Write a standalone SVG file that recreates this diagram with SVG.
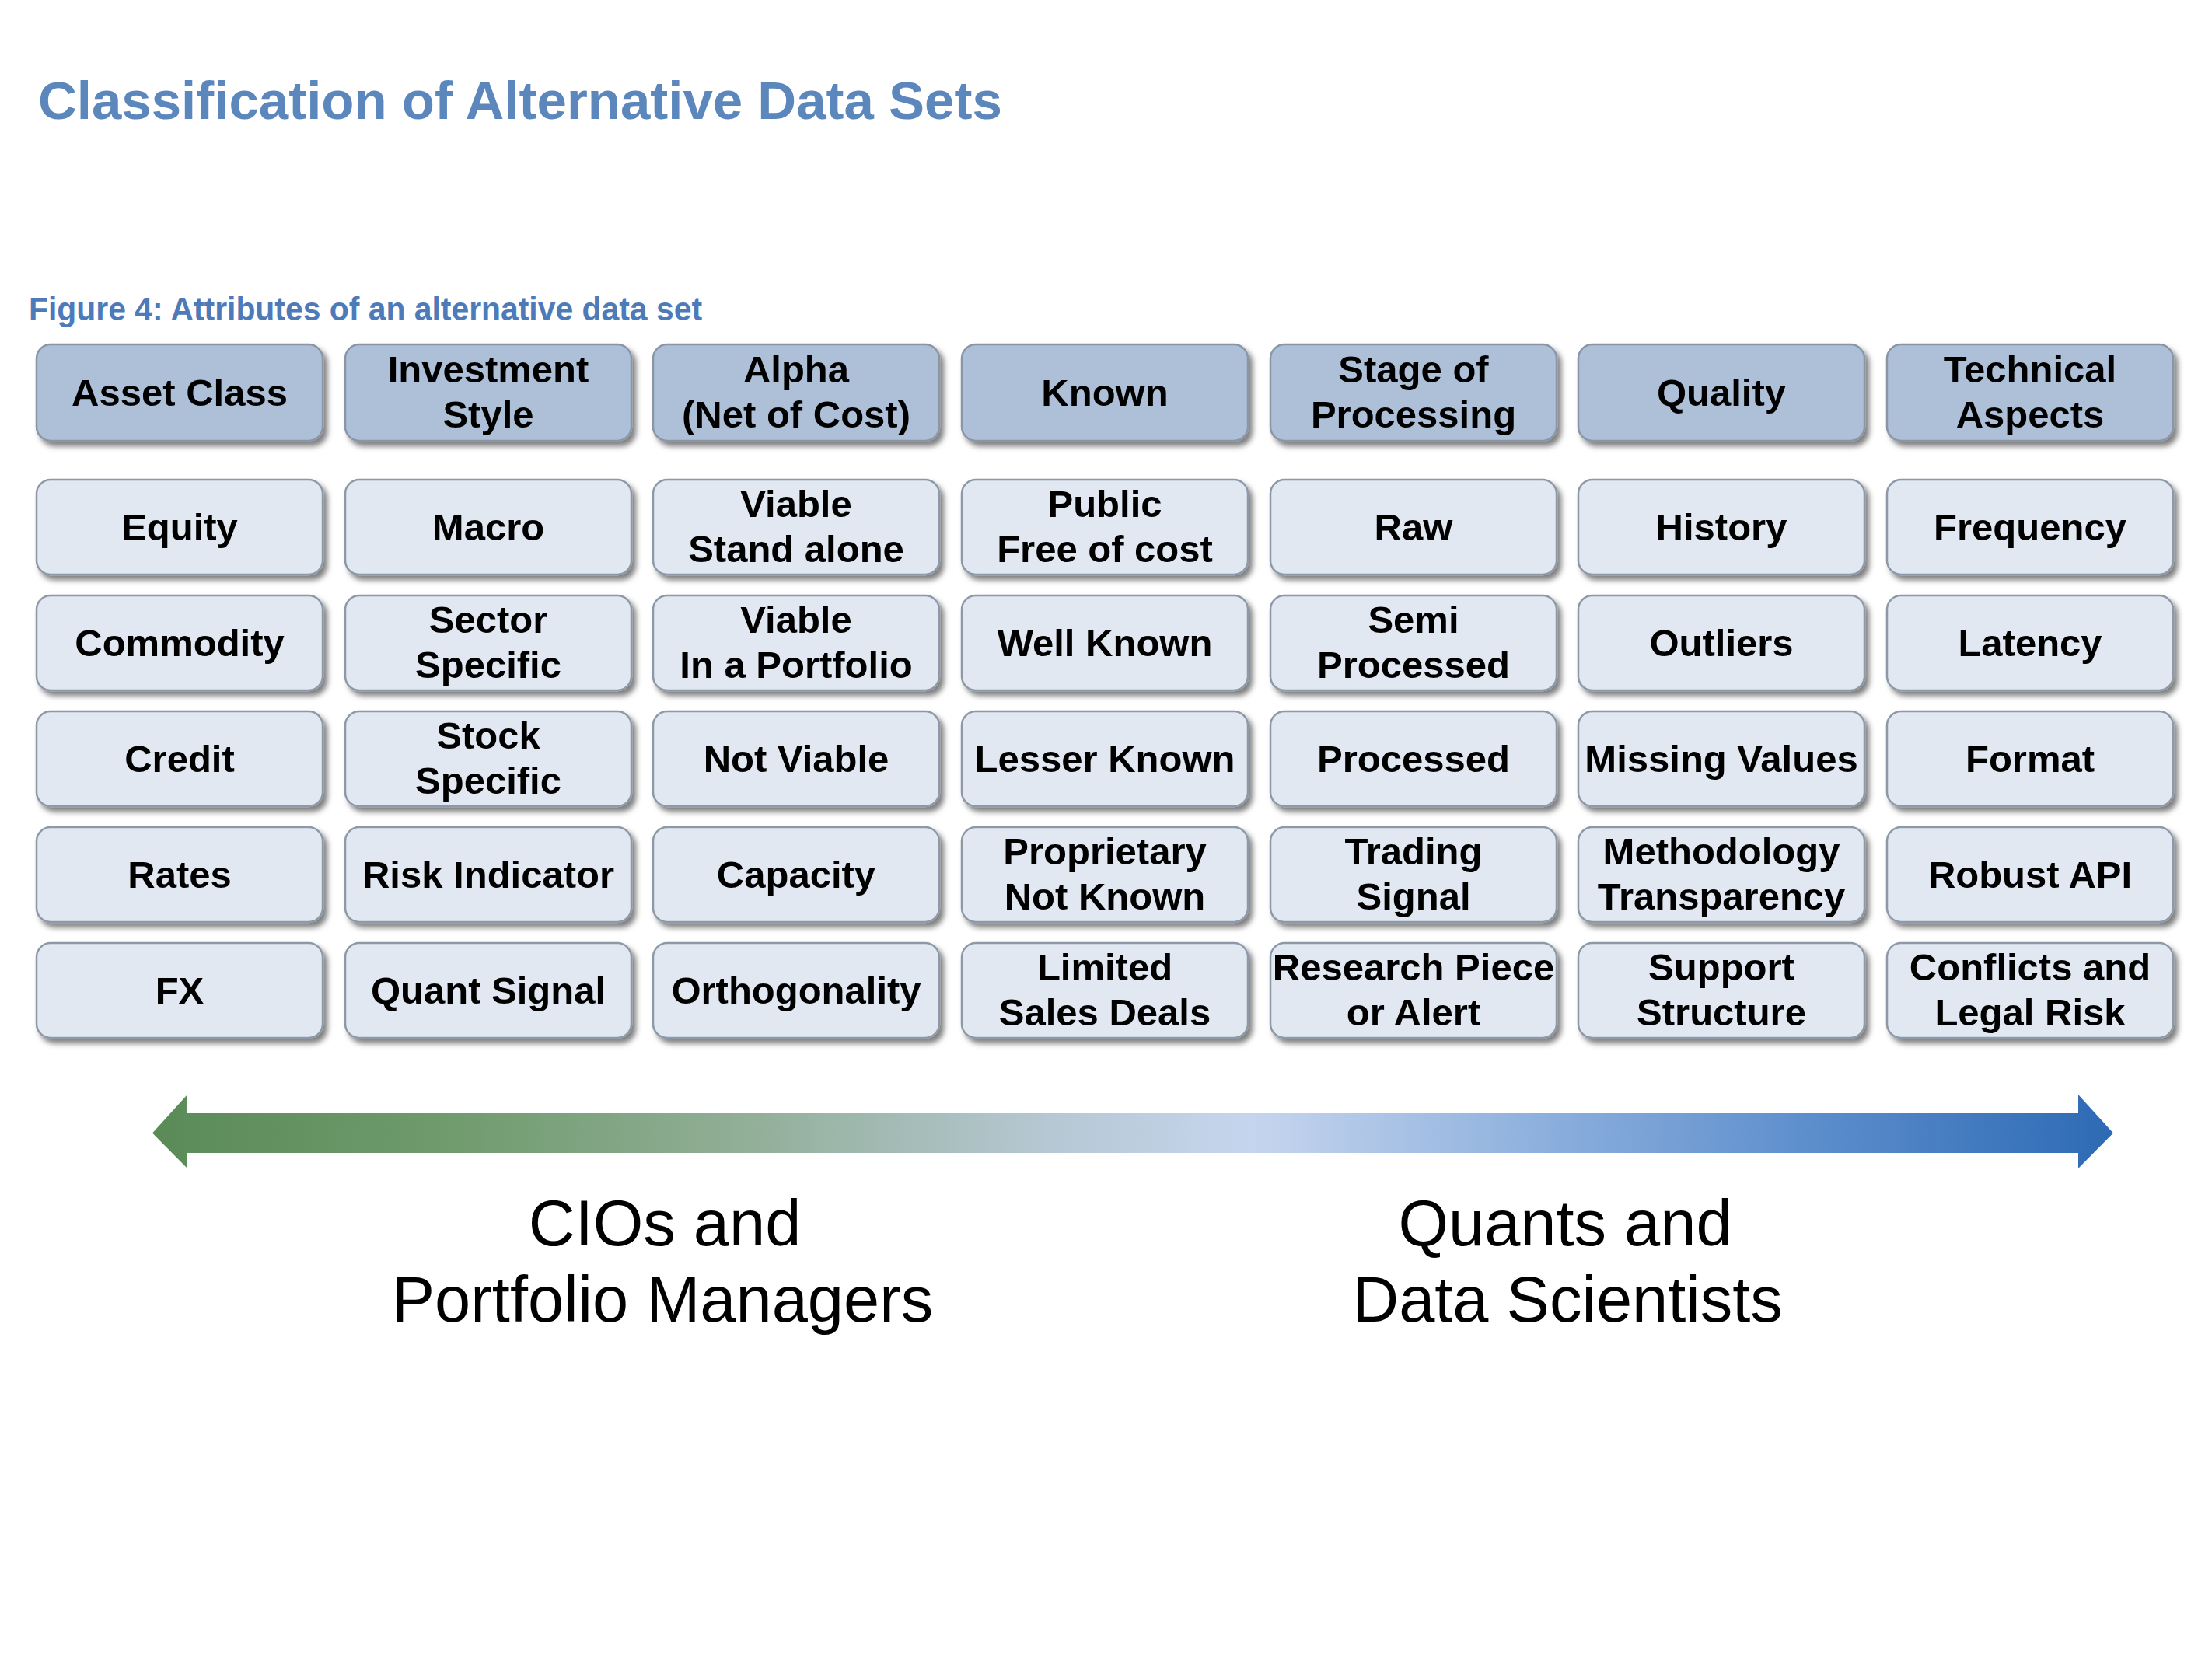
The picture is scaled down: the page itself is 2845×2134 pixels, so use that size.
<svg xmlns="http://www.w3.org/2000/svg" width="2845" height="2134" viewBox="0 0 2845 2134">
<defs>
<style>
.hd{fill:#adc0d8;stroke:#8a96a6;stroke-width:2.5}
.cl{fill:#e1e8f2;stroke:#8e99a8;stroke-width:2.5}
.t{font-family:"Liberation Sans",Arial,sans-serif;font-weight:bold;font-size:49px;fill:#000;text-anchor:middle}
.big{font-family:"Liberation Sans",Arial,sans-serif;font-size:83px;fill:#000;text-anchor:middle}
</style>
<filter id="sh" x="-10%" y="-20%" width="125%" height="150%">
<feDropShadow dx="5" dy="6" stdDeviation="3.5" flood-color="#000" flood-opacity="0.5"/>
</filter>
<linearGradient id="ag" gradientUnits="userSpaceOnUse" x1="196" y1="0" x2="2718" y2="0">
<stop offset="0" stop-color="#5a8b57"/>
<stop offset="0.15" stop-color="#6f9b6d"/>
<stop offset="0.3" stop-color="#91ae96"/>
<stop offset="0.45" stop-color="#b4c7d1"/>
<stop offset="0.56" stop-color="#c6d5ee"/>
<stop offset="0.7" stop-color="#90b2de"/>
<stop offset="0.85" stop-color="#5b8dcc"/>
<stop offset="1" stop-color="#2d6ab4"/>
</linearGradient>
</defs>
<rect width="2845" height="2134" fill="#fff"/>
<text x="49" y="153" font-family="'Liberation Sans',Arial,sans-serif" font-weight="bold" font-size="69" fill="#5b87bd">Classification of Alternative Data Sets</text>
<text x="37" y="412" font-family="'Liberation Sans',Arial,sans-serif" font-weight="bold" font-size="42" fill="#4d7bb9" textLength="866" lengthAdjust="spacingAndGlyphs">Figure 4: Attributes of an alternative data set</text>

<g id="col1">
<g id="n-asset-class"><rect class="hd" x="47" y="443" width="368" height="124" rx="18" filter="url(#sh)"/><text class="t" x="231" y="522">Asset Class</text></g>
<g id="n-equity"><rect class="cl" x="47" y="617" width="368" height="122" rx="18" filter="url(#sh)"/><text class="t" x="231" y="695">Equity</text></g>
<g id="n-commodity"><rect class="cl" x="47" y="766" width="368" height="122" rx="18" filter="url(#sh)"/><text class="t" x="231" y="844">Commodity</text></g>
<g id="n-credit"><rect class="cl" x="47" y="915" width="368" height="122" rx="18" filter="url(#sh)"/><text class="t" x="231" y="993">Credit</text></g>
<g id="n-rates"><rect class="cl" x="47" y="1064" width="368" height="122" rx="18" filter="url(#sh)"/><text class="t" x="231" y="1142">Rates</text></g>
<g id="n-fx"><rect class="cl" x="47" y="1213" width="368" height="122" rx="18" filter="url(#sh)"/><text class="t" x="231" y="1291">FX</text></g>
</g>

<g id="col2">
<g id="n-investment-style"><rect class="hd" x="444" y="443" width="368" height="124" rx="18" filter="url(#sh)"/><text class="t" x="628" y="492">Investment</text><text class="t" x="628" y="550">Style</text></g>
<g id="n-macro"><rect class="cl" x="444" y="617" width="368" height="122" rx="18" filter="url(#sh)"/><text class="t" x="628" y="695">Macro</text></g>
<g id="n-sector-specific"><rect class="cl" x="444" y="766" width="368" height="122" rx="18" filter="url(#sh)"/><text class="t" x="628" y="814">Sector</text><text class="t" x="628" y="872">Specific</text></g>
<g id="n-stock-specific"><rect class="cl" x="444" y="915" width="368" height="122" rx="18" filter="url(#sh)"/><text class="t" x="628" y="963">Stock</text><text class="t" x="628" y="1021">Specific</text></g>
<g id="n-risk-indicator"><rect class="cl" x="444" y="1064" width="368" height="122" rx="18" filter="url(#sh)"/><text class="t" x="628" y="1142">Risk Indicator</text></g>
<g id="n-quant-signal"><rect class="cl" x="444" y="1213" width="368" height="122" rx="18" filter="url(#sh)"/><text class="t" x="628" y="1291">Quant Signal</text></g>
</g>

<g id="col3">
<g id="n-alpha"><rect class="hd" x="840" y="443" width="368" height="124" rx="18" filter="url(#sh)"/><text class="t" x="1024" y="492">Alpha</text><text class="t" x="1024" y="550">(Net of Cost)</text></g>
<g id="n-viable-stand-alone"><rect class="cl" x="840" y="617" width="368" height="122" rx="18" filter="url(#sh)"/><text class="t" x="1024" y="665">Viable</text><text class="t" x="1024" y="723">Stand alone</text></g>
<g id="n-viable-portfolio"><rect class="cl" x="840" y="766" width="368" height="122" rx="18" filter="url(#sh)"/><text class="t" x="1024" y="814">Viable</text><text class="t" x="1024" y="872">In a Portfolio</text></g>
<g id="n-not-viable"><rect class="cl" x="840" y="915" width="368" height="122" rx="18" filter="url(#sh)"/><text class="t" x="1024" y="993">Not Viable</text></g>
<g id="n-capacity"><rect class="cl" x="840" y="1064" width="368" height="122" rx="18" filter="url(#sh)"/><text class="t" x="1024" y="1142">Capacity</text></g>
<g id="n-orthogonality"><rect class="cl" x="840" y="1213" width="368" height="122" rx="18" filter="url(#sh)"/><text class="t" x="1024" y="1291">Orthogonality</text></g>
</g>

<g id="col4">
<g id="n-known"><rect class="hd" x="1237" y="443" width="368" height="124" rx="18" filter="url(#sh)"/><text class="t" x="1421" y="522">Known</text></g>
<g id="n-public"><rect class="cl" x="1237" y="617" width="368" height="122" rx="18" filter="url(#sh)"/><text class="t" x="1421" y="665">Public</text><text class="t" x="1421" y="723">Free of cost</text></g>
<g id="n-well-known"><rect class="cl" x="1237" y="766" width="368" height="122" rx="18" filter="url(#sh)"/><text class="t" x="1421" y="844">Well Known</text></g>
<g id="n-lesser-known"><rect class="cl" x="1237" y="915" width="368" height="122" rx="18" filter="url(#sh)"/><text class="t" x="1421" y="993">Lesser Known</text></g>
<g id="n-proprietary"><rect class="cl" x="1237" y="1064" width="368" height="122" rx="18" filter="url(#sh)"/><text class="t" x="1421" y="1112">Proprietary</text><text class="t" x="1421" y="1170">Not Known</text></g>
<g id="n-limited"><rect class="cl" x="1237" y="1213" width="368" height="122" rx="18" filter="url(#sh)"/><text class="t" x="1421" y="1261">Limited</text><text class="t" x="1421" y="1319">Sales Deals</text></g>
</g>

<g id="col5">
<g id="n-stage"><rect class="hd" x="1634" y="443" width="368" height="124" rx="18" filter="url(#sh)"/><text class="t" x="1818" y="492">Stage of</text><text class="t" x="1818" y="550">Processing</text></g>
<g id="n-raw"><rect class="cl" x="1634" y="617" width="368" height="122" rx="18" filter="url(#sh)"/><text class="t" x="1818" y="695">Raw</text></g>
<g id="n-semi"><rect class="cl" x="1634" y="766" width="368" height="122" rx="18" filter="url(#sh)"/><text class="t" x="1818" y="814">Semi</text><text class="t" x="1818" y="872">Processed</text></g>
<g id="n-processed"><rect class="cl" x="1634" y="915" width="368" height="122" rx="18" filter="url(#sh)"/><text class="t" x="1818" y="993">Processed</text></g>
<g id="n-trading-signal"><rect class="cl" x="1634" y="1064" width="368" height="122" rx="18" filter="url(#sh)"/><text class="t" x="1818" y="1112">Trading</text><text class="t" x="1818" y="1170">Signal</text></g>
<g id="n-research"><rect class="cl" x="1634" y="1213" width="368" height="122" rx="18" filter="url(#sh)"/><text class="t" x="1818" y="1261">Research Piece</text><text class="t" x="1818" y="1319">or Alert</text></g>
</g>

<g id="col6">
<g id="n-quality"><rect class="hd" x="2030" y="443" width="368" height="124" rx="18" filter="url(#sh)"/><text class="t" x="2214" y="522">Quality</text></g>
<g id="n-history"><rect class="cl" x="2030" y="617" width="368" height="122" rx="18" filter="url(#sh)"/><text class="t" x="2214" y="695">History</text></g>
<g id="n-outliers"><rect class="cl" x="2030" y="766" width="368" height="122" rx="18" filter="url(#sh)"/><text class="t" x="2214" y="844">Outliers</text></g>
<g id="n-missing"><rect class="cl" x="2030" y="915" width="368" height="122" rx="18" filter="url(#sh)"/><text class="t" x="2214" y="993">Missing Values</text></g>
<g id="n-methodology"><rect class="cl" x="2030" y="1064" width="368" height="122" rx="18" filter="url(#sh)"/><text class="t" x="2214" y="1112">Methodology</text><text class="t" x="2214" y="1170">Transparency</text></g>
<g id="n-support"><rect class="cl" x="2030" y="1213" width="368" height="122" rx="18" filter="url(#sh)"/><text class="t" x="2214" y="1261">Support</text><text class="t" x="2214" y="1319">Structure</text></g>
</g>

<g id="col7">
<g id="n-technical"><rect class="hd" x="2427" y="443" width="368" height="124" rx="18" filter="url(#sh)"/><text class="t" x="2611" y="492">Technical</text><text class="t" x="2611" y="550">Aspects</text></g>
<g id="n-frequency"><rect class="cl" x="2427" y="617" width="368" height="122" rx="18" filter="url(#sh)"/><text class="t" x="2611" y="695">Frequency</text></g>
<g id="n-latency"><rect class="cl" x="2427" y="766" width="368" height="122" rx="18" filter="url(#sh)"/><text class="t" x="2611" y="844">Latency</text></g>
<g id="n-format"><rect class="cl" x="2427" y="915" width="368" height="122" rx="18" filter="url(#sh)"/><text class="t" x="2611" y="993">Format</text></g>
<g id="n-robust-api"><rect class="cl" x="2427" y="1064" width="368" height="122" rx="18" filter="url(#sh)"/><text class="t" x="2611" y="1142">Robust API</text></g>
<g id="n-conflicts"><rect class="cl" x="2427" y="1213" width="368" height="122" rx="18" filter="url(#sh)"/><text class="t" x="2611" y="1261">Conflicts and</text><text class="t" x="2611" y="1319">Legal Risk</text></g>
</g>

<g id="connectors">
<path d="M196,1457.5 L241,1408 L241,1432 L2673,1432 L2673,1408 L2718,1457.5 L2673,1503 L2673,1483 L241,1483 L241,1503 Z" fill="url(#ag)"/>
</g>

<g id="audience-left">
<text class="big" x="855" y="1602">CIOs and</text>
<text class="big" x="852" y="1700">Portfolio Managers</text>
</g>
<g id="audience-right">
<text class="big" x="2013" y="1602">Quants and</text>
<text class="big" x="2016" y="1700">Data Scientists</text>
</g>
</svg>
